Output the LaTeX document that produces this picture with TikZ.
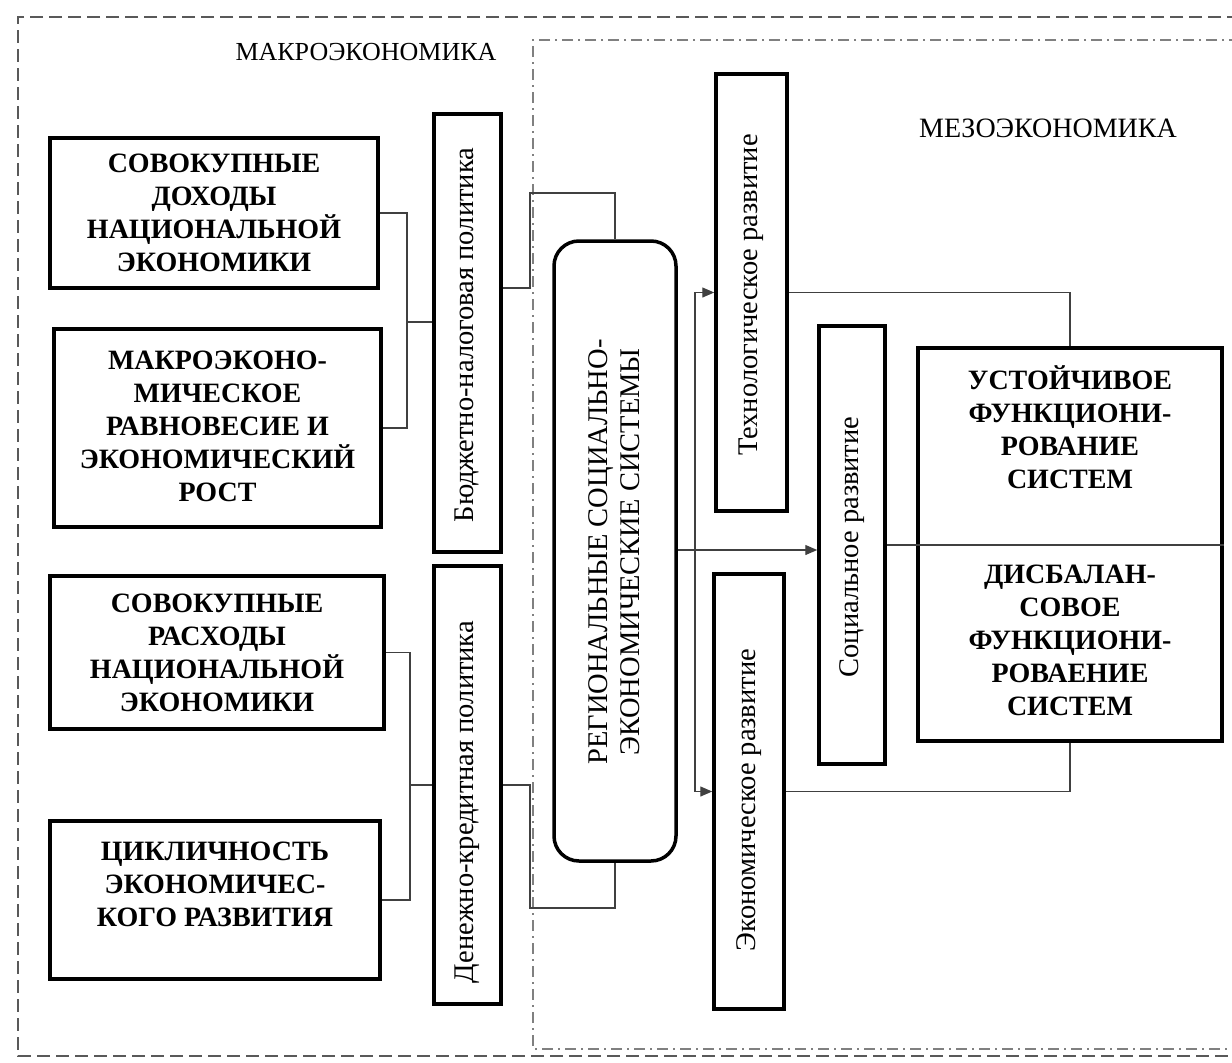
\documentclass[tikz,border=0pt]{standalone}
\usepackage{fontspec}
\setmainfont{Liberation Serif}
\usetikzlibrary{arrows.meta}
\tikzset{
  thickbox/.style={draw=black, line width=3.5pt, inner sep=0pt, fill=white},
  boxlabel/.style={font=\bfseries\fontsize{28}{33}\selectfont, align=center, inner sep=0pt},
  vlabel/.style={font=\fontsize{28.5}{32}\selectfont, align=center, inner sep=0pt, rotate=90},
  zonelabel/.style={font=\fontsize{26}{30}\selectfont, inner sep=0pt},
  conn/.style={draw=black!75, line width=1.3pt},
  arr/.style={conn, -{Triangle[length=12pt,width=10pt]}},
  outerzone/.style={draw=black!65, line width=1.8pt, dash pattern=on 13pt off 6pt},
  innerzone/.style={draw=black!50, line width=1.5pt, dash pattern=on 11pt off 5pt on 2pt off 5pt}
}
\begin{document}
\begin{tikzpicture}[x=1pt,y=-1pt]
\useasboundingbox (0,0) rectangle (1232,1063);
\clip (0,0) rectangle (1232,1063);
% zones
\draw[outerzone] (1240,17) -- (18,17) -- (18,1056) -- (1240,1056);
\draw[innerzone] (1240,40) -- (533,40) -- (533,1049) -- (1240,1049);
\node[zonelabel] (macro) at (366,52) {МАКРОЭКОНОМИКА};
\node[zonelabel, font=\fontsize{28}{30}\selectfont] (meso) at (1048,128) {МЕЗОЭКОНОМИКА};
% left boxes
\node[thickbox, minimum width=328pt, minimum height=150pt] (b1) at (214,213) {};
\node[boxlabel] (b1t) at (b1.center) {СОВОКУПНЫЕ\\ДОХОДЫ\\НАЦИОНАЛЬНОЙ\\ЭКОНОМИКИ};
\node[thickbox, minimum width=327pt, minimum height=198pt] (b2) at (217.5,428) {};
\node[boxlabel] (b2t) at (217.5,426) {МАКРОЭКОНО-\\МИЧЕСКОЕ\\РАВНОВЕСИЕ И\\ЭКОНОМИЧЕСКИЙ\\РОСТ};
\node[thickbox, minimum width=334pt, minimum height=153pt] (b3) at (217,652.5) {};
\node[boxlabel] (b3t) at (b3.center) {СОВОКУПНЫЕ\\РАСХОДЫ\\НАЦИОНАЛЬНОЙ\\ЭКОНОМИКИ};
\node[thickbox, minimum width=330pt, minimum height=158pt] (b4) at (215,900) {};
\node[boxlabel] (b4t) at (215,884) {ЦИКЛИЧНОСТЬ\\ЭКОНОМИЧЕС-\\КОГО РАЗВИТИЯ};
% policy boxes
\node[thickbox, minimum width=67pt, minimum height=438pt] (bud) at (467.5,333) {};
\node[vlabel] (budt) at (467,335) {Бюджетно-налоговая политика};
\node[thickbox, minimum width=67pt, minimum height=438pt] (den) at (467.5,785) {};
\node[vlabel] (dent) at (467,802) {Денежно-кредитная политика};
% central
\node[thickbox, rounded corners=25pt, minimum width=122pt, minimum height=620pt] (reg) at (615,551) {};
\node[vlabel] (regt) at (614,552) {РЕГИОНАЛЬНЫЕ СОЦИАЛЬНО-\\ЭКОНОМИЧЕСКИЕ СИСТЕМЫ};
% development boxes
\node[thickbox, minimum width=71pt, minimum height=437pt] (tech) at (751.5,292.5) {};
\node[vlabel] (techt) at (751,295) {Технологическое развитие};
\node[thickbox, minimum width=70pt, minimum height=435pt] (econ) at (749,791.5) {};
\node[vlabel] (econt) at (749,800) {Экономическое развитие};
\node[thickbox, minimum width=66pt, minimum height=438pt] (soc) at (852,545) {};
\node[vlabel] (soct) at (852,547) {Социальное развитие};
% result box
\node[thickbox, minimum width=304pt, minimum height=393pt] (rb) at (1070,544.5) {};
\node[boxlabel] (rbu) at (1070,427) {УСТОЙЧИВОЕ\\ФУНКЦИОНИ-\\РОВАНИЕ\\СИСТЕМ};
\node[boxlabel] (rbl) at (1070,640) {ДИСБАЛАН-\\СОВОЕ\\ФУНКЦИОНИ-\\РОВАЕНИЕ\\СИСТЕМ};
% connectors left
\coordinate (j1) at (407,322);
\coordinate (j2) at (410,785);
\draw[conn] (b1.east) -| (j1) |- (b2.east);
\draw[conn] (j1) -- (j1 -| bud.west);
\draw[conn] (b3.east) -| (j2) |- (b4.east);
\draw[conn] (j2) -- (j2 -| den.west);
% policy to central
\coordinate (p1) at (530,288);
\coordinate (p2) at (530,785);
\draw[conn] (p1 -| bud.east) -- (p1) |- (reg.north |- 0,193) -- (reg.north);
\draw[conn] (den.east) -- (p2) |- (reg.south |- 0,908) -- (reg.south);
% central to development
\coordinate (hx) at (695,550);
\draw[arr] (reg.east |- hx) -- (soc.west |- hx);
\draw[arr] (hx) |- (tech.west);
\draw[arr] (hx) |- (econ.west);
% development to result
\draw[conn] (tech.east) -| (rb.north);
\draw[conn] (econ.east) -| (rb.south);
\draw[conn] (soc.east) -- (rb.east |- soc.east);
\end{tikzpicture}
\end{document}
